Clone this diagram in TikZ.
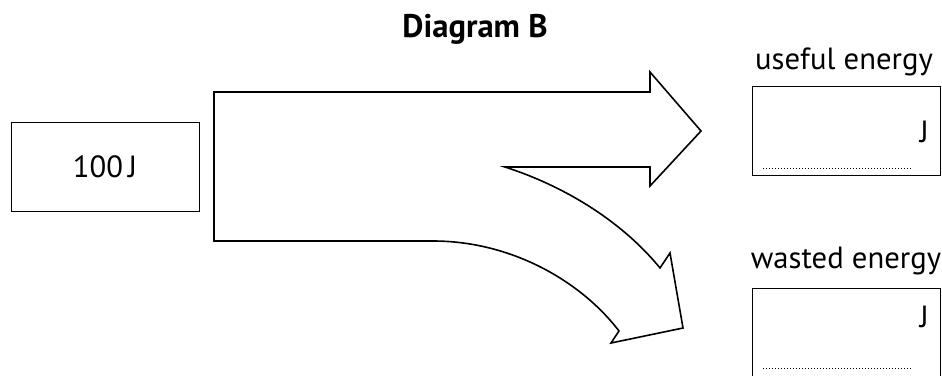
\documentclass[tikz,border=0pt]{standalone}
\usepackage{fontspec}
\setmainfont{PT Sans}
\begin{document}
\begin{tikzpicture}[x=0.75pt,y=-0.75pt,
 box/.style={draw,line width=0.6pt,minimum width=141pt,minimum height=66.75pt,inner sep=0pt},
 lbl/.style={font=\fontsize{23}{28}\selectfont,inner sep=0pt},
 dots/.style={line width=0.75pt,dash pattern=on 0.75pt off 1.5pt}]
\useasboundingbox (0,0) rectangle (942,375);
\node[lbl,font=\fontsize{24.5}{28}\selectfont\bfseries,anchor=base] (title) at (475,37) {Diagram B};
\node[box,lbl] (src) at (105,166.5) {100\,J};
\node[box] (useful) at (846,131) {}; \node[box] (wasted) at (846,332.5) {};
\node[lbl,anchor=base] (usefullbl) at (844,69) {useful energy};
\node[lbl,anchor=base] (wastedlbl) at (846,268) {wasted energy};
\node[lbl,anchor=base east] (usefulj) at (929,142) {J}; \node[lbl,anchor=base east] (wastedj) at (929,327) {J};
\draw[dots] (763,168) -- (913,168); \draw[dots] (763,368) -- (913,368);
% split energy arrow
\draw[line width=1.2pt,line join=miter] (214,92) -- (650,92) -- (650,72) -- (701,131) -- (650,186) -- (650,167) -- (505,167)
 .. controls (570,188) and (625,225) .. (660,268) -- (670,253) -- (683,328) -- (611,343) -- (619,331)
 .. controls (580,280) and (510,241) .. (433,241) -- (214,241) -- cycle;
\end{tikzpicture}
\end{document}
